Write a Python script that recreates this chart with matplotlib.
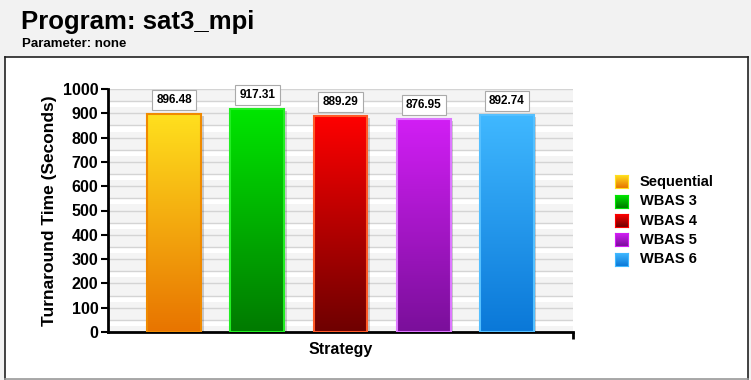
import numpy as np
import matplotlib
matplotlib.use("Agg")
import matplotlib.pyplot as plt
from matplotlib.patches import Rectangle
from matplotlib.colors import LinearSegmentedColormap

categories = ["Sequential", "WBAS 3", "WBAS 4", "WBAS 5", "WBAS 6"]
values = [896.48, 917.31, 889.29, 876.95, 892.74]
yticks = [0, 100, 200, 300, 400, 500, 600, 700, 800, 900, 1000]
top_colors = ["#ffe01e", "#00e600", "#ff0000", "#d21ef5", "#40b8ff"]
bottom_colors = ["#e87400", "#007a00", "#6e0000", "#7a0f9a", "#0a78d8"]
edge_colors = ["#f08a00", "#22ee22", "#ff5a28", "#dd77ff", "#55c0ff"]

W, H = 751, 380
fig = plt.figure(figsize=(W / 100, H / 100), dpi=100)
fig.patch.set_facecolor("#f2f2f2")

# white panel with border
panel = fig.add_axes([5 / W, 1 - 379 / H, 743 / W, (379 - 57) / H])
panel.set_facecolor("white")
for s in panel.spines.values():
    s.set_color("#222222")
    s.set_linewidth(1.2)
panel.spines["bottom"].set_color("#999999")
panel.set_xticks([])
panel.set_yticks([])

fig.text(21 / W, 1 - 22 / H, "Program: sat3_mpi", fontsize=18.5, fontweight="bold",
         va="center", ha="left", family="Liberation Sans")
fig.text(22 / W, 1 - 44 / H, "Parameter: none", fontsize=9.5, fontweight="bold",
         va="center", ha="left", family="Liberation Sans")

x0, x1 = 108, 573
y0, y1 = 332, 89
ax = fig.add_axes([x0 / W, 1 - y0 / H, (x1 - x0) / W, (y0 - y1) / H])
ax.set_facecolor("#f4f4f4")
for k in range(0, 1000, 50):
    if (k // 50) % 2 == 0:
        ax.axhspan(k + 25, k + 50, color="white", zorder=0, lw=0)
    ax.axhline(k + 50, color="#d4d4d4", lw=1, zorder=0.5)

width = 0.65
grad = np.linspace(0, 1, 256).reshape(-1, 1)
for i, (v, tc, bc, ec) in enumerate(zip(values, top_colors, bottom_colors, edge_colors)):
    cmap = LinearSegmentedColormap.from_list(f"g{i}", [bc, tc])
    sh = Rectangle((i - width / 2 + 0.03, 0), width, v - 8, facecolor="#000000",
                   alpha=0.18, lw=0, zorder=1)
    ax.add_patch(sh)
    im = ax.imshow(grad, cmap=cmap, aspect="auto", origin="lower",
                   extent=(i - width / 2, i + width / 2, 0, v), zorder=2)
    rect = Rectangle((i - width / 2, 0), width, v, facecolor="none",
                     edgecolor=ec, lw=1.5, zorder=3)
    ax.add_patch(rect)
    im.set_clip_path(rect)
    ax.text(i, v + 58, f"{v:.2f}", ha="center", va="center", fontsize=8.5,
            fontweight="bold", family="Liberation Sans", zorder=5,
            bbox=dict(boxstyle="square,pad=0.35", fc="white", ec="#aaaaaa", lw=0.8))

ax.set_xlim(-0.8, len(categories) - 0.2)
ax.set_ylim(0, 1000)
ax.set_yticks(yticks)
ax.set_yticklabels([str(t) for t in yticks], fontsize=11.5, fontweight="bold",
                   family="Liberation Sans")
ax.set_xticks([])
ax.tick_params(axis="y", length=5, width=1.5, direction="out", pad=2)
ax.spines["left"].set_linewidth(2)
ax.spines["bottom"].set_linewidth(2)
ax.spines["top"].set_visible(False)
ax.spines["right"].set_visible(False)
ax.plot([1, 1], [0, -0.03], transform=ax.transAxes, color="black", lw=2,
        clip_on=False, solid_capstyle="butt")
ax.set_ylabel("Turnaround Time (Seconds)", fontsize=12.5, fontweight="bold",
              family="Liberation Sans", labelpad=4)
ax.set_xlabel("Strategy", fontsize=11.5, fontweight="bold", family="Liberation Sans",
              labelpad=7)

# legend
for i, (name, tc, bc) in enumerate(zip(categories, top_colors, bottom_colors)):
    ly = 182 + i * 19.3
    cmap = LinearSegmentedColormap.from_list(f"l{i}", [bc, tc])
    lax = fig.add_axes([615 / W, 1 - (ly + 6.5) / H, 13 / W, 13 / H])
    lax.imshow(grad, cmap=cmap, aspect="auto", origin="lower")
    lax.set_xticks([]); lax.set_yticks([])
    for s in lax.spines.values():
        s.set_color(tc); s.set_linewidth(0.8)
    fig.text(640 / W, 1 - ly / H, name, fontsize=10.5, fontweight="bold",
             va="center", ha="left", family="Liberation Sans")

fig.savefig("out.png", dpi=100)
